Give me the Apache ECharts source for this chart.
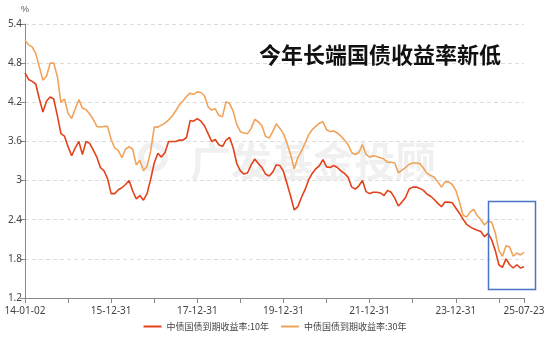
<!DOCTYPE html>
<html>
<head>
<meta charset="utf-8">
<script src="https://cdn.jsdelivr.net/npm/echarts@6/dist/echarts.min.js"></script>
<style>html,body{margin:0;padding:0;background:#fff;}#c{width:550px;height:343px;}</style>
</head>
<body>
<div id="c"></div>
<script>
const dates = [
'14-01-02','14-01-31','14-02-28','14-03-31','14-04-30','14-05-31','14-06-30','14-07-31','14-08-31','14-09-30','14-10-31','14-11-30','14-12-31',
'15-01-31','15-02-28','15-03-31','15-04-30','15-05-31','15-06-30','15-07-31','15-08-31','15-09-30','15-10-31','15-11-30','15-12-31',
'16-01-31','16-02-29','16-03-31','16-04-30','16-05-31','16-06-30','16-07-31','16-08-31','16-09-30','16-10-31','16-11-30','16-12-31',
'17-01-31','17-02-28','17-03-31','17-04-30','17-05-31','17-06-30','17-07-31','17-08-31','17-09-30','17-10-31','17-11-30','17-12-31',
'18-01-31','18-02-28','18-03-31','18-04-30','18-05-31','18-06-30','18-07-31','18-08-31','18-09-30','18-10-31','18-11-30','18-12-31',
'19-01-31','19-02-28','19-03-31','19-04-30','19-05-31','19-06-30','19-07-31','19-08-31','19-09-30','19-10-31','19-11-30','19-12-31',
'20-01-31','20-02-29','20-03-31','20-04-30','20-05-31','20-06-30','20-07-31','20-08-31','20-09-30','20-10-31','20-11-30','20-12-31',
'21-01-31','21-02-28','21-03-31','21-04-30','21-05-31','21-06-30','21-07-31','21-08-31','21-09-30','21-10-31','21-11-30','21-12-31',
'22-01-31','22-02-28','22-03-31','22-04-30','22-05-31','22-06-30','22-07-31','22-08-31','22-09-30','22-10-31','22-11-30','22-12-31',
'23-01-31','23-02-28','23-03-31','23-04-30','23-05-31','23-06-30','23-07-31','23-08-31','23-09-30','23-10-31','23-11-30','23-12-31',
'24-01-31','24-02-29','24-03-31','24-04-30','24-05-31','24-06-30','24-07-31','24-08-31','24-09-30','24-10-31','24-11-30','24-12-31',
'25-01-31','25-02-28','25-03-31','25-04-30','25-05-31','25-06-30','25-07-23'
];

const tickLabels = ['14-01-02','15-12-31','17-12-31','19-12-31','21-12-31','23-12-31','25-07-23'];

const yield10 = [
4.65,4.55,4.52,4.48,4.25,4.05,4.22,4.28,4.25,4.00,3.72,3.68,3.52,
3.38,3.50,3.60,3.40,3.60,3.57,3.47,3.36,3.20,3.15,3.03,2.80,
2.80,2.86,2.89,2.94,3.00,2.84,2.72,2.77,2.70,2.80,3.02,3.27,
3.42,3.36,3.43,3.60,3.60,3.60,3.62,3.62,3.66,3.92,3.91,3.95,
3.91,3.84,3.72,3.60,3.63,3.55,3.52,3.62,3.66,3.50,3.26,3.15,
3.10,3.12,3.24,3.33,3.26,3.20,3.10,3.07,3.13,3.24,3.23,3.14,
2.95,2.76,2.55,2.60,2.74,2.86,3.01,3.11,3.18,3.23,3.32,3.21,
3.20,3.23,3.20,3.15,3.11,3.05,2.90,2.87,2.92,3.00,2.83,2.80,
2.82,2.82,2.81,2.77,2.85,2.82,2.73,2.61,2.67,2.74,2.87,2.90,
2.90,2.88,2.85,2.79,2.76,2.71,2.65,2.60,2.67,2.67,2.66,2.58,
2.50,2.41,2.33,2.29,2.26,2.24,2.22,2.14,2.19,2.09,1.93,1.71,
1.67,1.80,1.71,1.66,1.71,1.66,1.68
];

const yield30 = [
5.15,5.08,5.05,4.95,4.74,4.54,4.60,4.80,4.80,4.60,4.20,4.25,4.03,
3.95,4.10,4.24,4.11,4.09,4.02,3.94,3.83,3.82,3.83,3.83,3.63,
3.50,3.46,3.35,3.48,3.52,3.48,3.24,3.31,3.15,3.22,3.45,3.82,
3.82,3.85,3.88,3.93,3.99,4.07,4.16,4.22,4.29,4.34,4.32,4.36,
4.35,4.30,4.13,4.08,4.10,4.00,3.98,4.21,4.18,4.06,3.86,3.75,
3.73,3.72,3.80,3.94,3.90,3.84,3.68,3.65,3.75,3.87,3.80,3.72,
3.57,3.40,3.18,3.35,3.45,3.57,3.70,3.78,3.83,3.88,3.90,3.78,
3.75,3.76,3.73,3.68,3.62,3.55,3.43,3.40,3.43,3.55,3.40,3.36,
3.38,3.37,3.35,3.33,3.28,3.28,3.27,3.12,3.16,3.20,3.25,3.27,
3.27,3.26,3.19,3.11,3.08,3.05,2.98,2.90,2.98,2.98,2.94,2.85,
2.68,2.47,2.44,2.52,2.56,2.46,2.40,2.32,2.38,2.36,2.20,1.93,
1.84,2.00,1.98,1.84,1.89,1.86,1.90
];

const seriesNames = ['中债国债到期收益率:10年','中债国债到期收益率:30年'];
const titleText = '今年长端国债收益率新低';
const watermarkText = '广发基金投顾';

const chart = echarts.init(document.getElementById('c'), null, {renderer:'canvas'});
const lastIdx = dates.length - 1;
chart.setOption({
  animation: false,
  backgroundColor: '#ffffff',
  grid: {left: 25, right: 26, top: 24, bottom: 45, containLabel: false},
  graphic: [
    {type:'circle', left: 138, top: 142, shape:{r: 12}, style:{fill:'none', stroke:'rgba(0,0,0,0.06)', lineWidth: 6}, z: 0},
    {type:'text', left: 190, top: 141, style:{text: watermarkText, fill:'rgba(0,0,0,0.06)', font:'bold 41px "Noto Sans CJK SC"'}, z: 0},
    {type:'text', left: 259, top: 44, style:{text: titleText, fill:'#111', font:'bold 22px "Noto Sans CJK SC"'}, z: 10},
    {type:'rect', left: 486, top: 199, shape:{width: 47, height: 88}, style:{fill:'none', stroke:'#4a74c9', lineWidth: 1.5}, z: 10}
  ],
  legend: {
    bottom: 7, left: 'center', itemWidth: 18, itemHeight: 2, itemGap: 12,
    icon: 'rect',
    textStyle: {fontSize: 9, color: '#444', fontFamily: '"Noto Sans CJK SC"'},
    data: seriesNames
  },
  xAxis: {
    type: 'category', data: dates, boundaryGap: false,
    axisLine: {lineStyle: {color: '#888', width: 1}},
    axisTick: {show: true, length: 5, lineStyle: {color: '#888'},
      interval: (i, v) => i === 0 || i === lastIdx || v.endsWith('12-31')},
    axisLabel: {fontSize: 10, color: '#444', margin: 8, fontFamily: '"Noto Sans"',
      interval: (i, v) => tickLabels.indexOf(v) >= 0},
    splitLine: {show: false}
  },
  yAxis: {
    type: 'value', min: 1.2, max: 5.4, interval: 0.6,
    name: '%', nameGap: 10, nameTextStyle: {fontSize: 9, color: '#555', align: 'center'},
    axisLine: {show: true, lineStyle: {color: '#888', width: 1}},
    axisTick: {show: true, length: 5, lineStyle: {color: '#888'}},
    axisLabel: {fontSize: 10, color: '#444', margin: 3, fontFamily: '"Noto Sans"',
      formatter: v => String(Math.round(v * 10) / 10)},
    splitLine: {show: true, lineStyle: {color: '#ddd', type: [4, 3]}}
  },
  series: [
    {name: seriesNames[0], type: 'line', data: yield10, symbol: 'none', smooth: false,
      lineStyle: {color: '#e2421b', width: 1.6}, itemStyle: {color: '#e2421b'}, z: 3},
    {name: seriesNames[1], type: 'line', data: yield30, symbol: 'none', smooth: false,
      lineStyle: {color: '#f1a35a', width: 1.6}, itemStyle: {color: '#f1a35a'}, z: 2}
  ]
});
</script>
</body>
</html>
